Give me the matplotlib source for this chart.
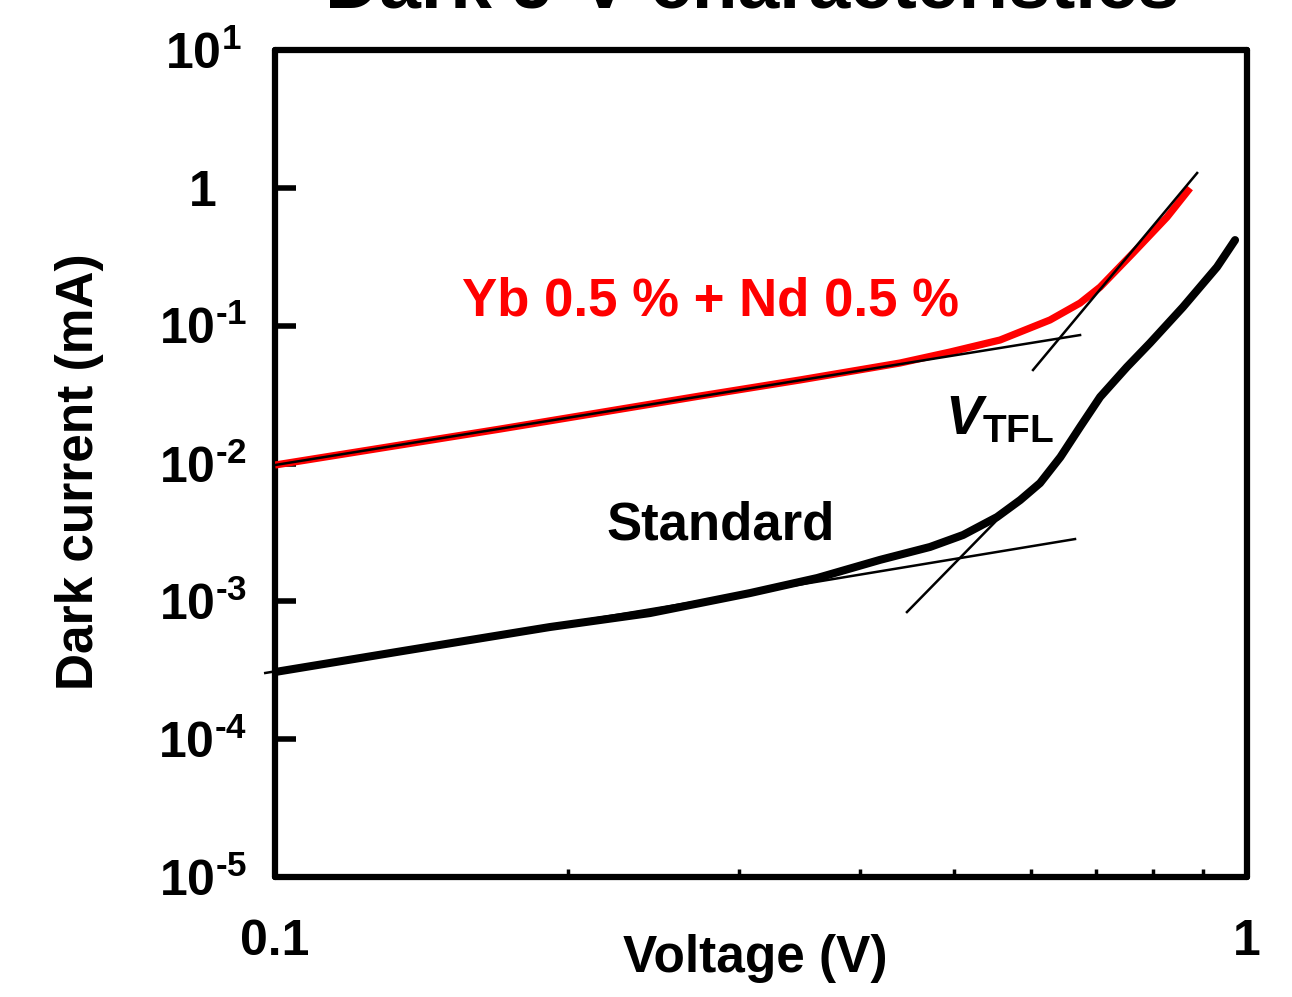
import matplotlib
matplotlib.use("Agg")
import matplotlib.pyplot as plt
from matplotlib.ticker import FixedLocator, NullFormatter, NullLocator

plt.rcParams['font.family'] = ['Liberation Sans', 'DejaVu Sans']
plt.rcParams['font.weight'] = 'bold'
plt.rcParams['mathtext.fontset'] = 'custom'
plt.rcParams['mathtext.rm'] = 'Liberation Sans:bold'
plt.rcParams['mathtext.bf'] = 'Liberation Sans:bold'
plt.rcParams['mathtext.it'] = 'Liberation Sans:bold:italic'

# doped sample (red)
v_doped = [0.1, 0.1345, 0.1704, 0.2160, 0.2737, 0.3469, 0.4395, 0.4948, 0.5570,
           0.6270, 0.6733, 0.7061, 0.7633, 0.8274, 0.8738]
i_doped = [0.00975, 0.01362, 0.01778, 0.02344, 0.0309, 0.0404, 0.0536, 0.0644, 0.0787,
           0.110, 0.146, 0.1906, 0.3366, 0.614, 0.997]

# standard sample (black)
v_std = [0.1, 0.1345, 0.1918, 0.2431, 0.3081, 0.3612, 0.4193, 0.4719, 0.5104, 0.5531,
         0.5843, 0.6124, 0.6427, 0.6733, 0.7061, 0.7523, 0.7946, 0.8592, 0.9314, 0.9720]
i_std = [3.07e-4, 4.33e-4, 6.51e-4, 8.22e-4, 1.148e-3, 1.476e-3, 2.0e-3, 2.48e-3, 3.03e-3, 4.09e-3,
         5.43e-3, 7.21e-3, 0.01114, 0.0184, 0.0304, 0.0501, 0.0748, 0.1365, 0.2666, 0.418]

# fitted tangent lines
fit_doped_ohm_v = [0.1, 0.6733]
fit_doped_ohm_i = [0.00975, 0.0855]
fit_doped_tfl_v = [0.6023, 0.8885]
fit_doped_tfl_i = [0.0477, 1.282]
fit_std_ohm_v = [0.0977, 0.6653]
fit_std_ohm_i = [3.02e-4, 2.83e-3]
fit_std_tfl_v = [0.4468, 0.5531]
fit_std_tfl_i = [8.36e-4, 3.89e-3]

yticks = [1e1, 1, 1e-1, 1e-2, 1e-3, 1e-4, 1e-5]
ylabels = [r'$10^{1}$', '1', r'$10^{\text{-1}}$', r'$10^{\text{-2}}$',
           r'$10^{\text{-3}}$', r'$10^{\text{-4}}$', r'$10^{\text{-5}}$']
xticks = [0.1, 1]
xlabels = ['0.1', '1']
xminor = [0.2, 0.3, 0.4, 0.5, 0.6, 0.7, 0.8, 0.9]

fig = plt.figure(figsize=(12.92, 9.97), dpi=100)
ax = fig.add_axes([0.2129, 0.1204, 0.7523, 0.8294])
ax.set_xscale('log')
ax.set_yscale('log')
ax.set_xlim(0.1, 1)
ax.set_ylim(1e-5, 10)

ax.plot(v_doped, i_doped, color='#ff0000', lw=5.2, solid_capstyle='butt',
        solid_joinstyle='round', zorder=3)
ax.plot(v_std, i_std, color='black', lw=5.8, solid_capstyle='round',
        solid_joinstyle='round', zorder=3)
for fv, fi in [(fit_doped_ohm_v, fit_doped_ohm_i), (fit_doped_tfl_v, fit_doped_tfl_i),
               (fit_std_ohm_v, fit_std_ohm_i), (fit_std_tfl_v, fit_std_tfl_i)]:
    ax.plot(fv, fi, color='black', lw=1.8, zorder=4, clip_on=False)

for s in ax.spines.values():
    s.set_linewidth(4.5)
    s.set_capstyle('round')

ax.yaxis.set_major_locator(FixedLocator(yticks))
ax.set_yticklabels(ylabels)
ax.yaxis.set_minor_locator(NullLocator())
ax.xaxis.set_major_locator(FixedLocator(xticks))
ax.set_xticklabels(xlabels)
ax.xaxis.set_minor_locator(FixedLocator(xminor))
ax.xaxis.set_minor_formatter(NullFormatter())

ax.tick_params(axis='y', which='major', direction='in', length=15, width=4, pad=52, labelsize=36)
for lab in ax.get_yticklabels():
    lab.set_horizontalalignment('center')
ax.tick_params(axis='x', which='major', direction='in', length=0, width=4, pad=30, labelsize=36)
ax.tick_params(axis='x', which='minor', direction='in', length=6, width=2.5)

ax.set_xlabel('Voltage (V)', fontsize=37, fontweight='bold')
ax.xaxis.set_label_coords(0.494, -0.069)
ax.set_ylabel('Dark current (mA)', fontsize=37, fontweight='bold')
ax.yaxis.set_label_coords(-0.176, 0.49)

ax.text(0.1557, 0.1486, 'Yb 0.5 % + Nd 0.5 %', color='#ff0000', fontsize=38,
        fontweight='bold', ha='left', va='center')
ax.text(0.2195, 0.00355, 'Standard', color='black', fontsize=38,
        fontweight='bold', ha='left', va='center')
ax.text(0.4891, 0.0207, r'$\mathit{V}_{\mathrm{TFL}}$', color='black', fontsize=40,
        ha='left', va='center')

fig.text(0.582, 1 - 7 / 997, 'Dark J-V characteristics', fontsize=54, fontweight='bold',
         ha='center', va='baseline')

fig.savefig('out.png', dpi=100)
